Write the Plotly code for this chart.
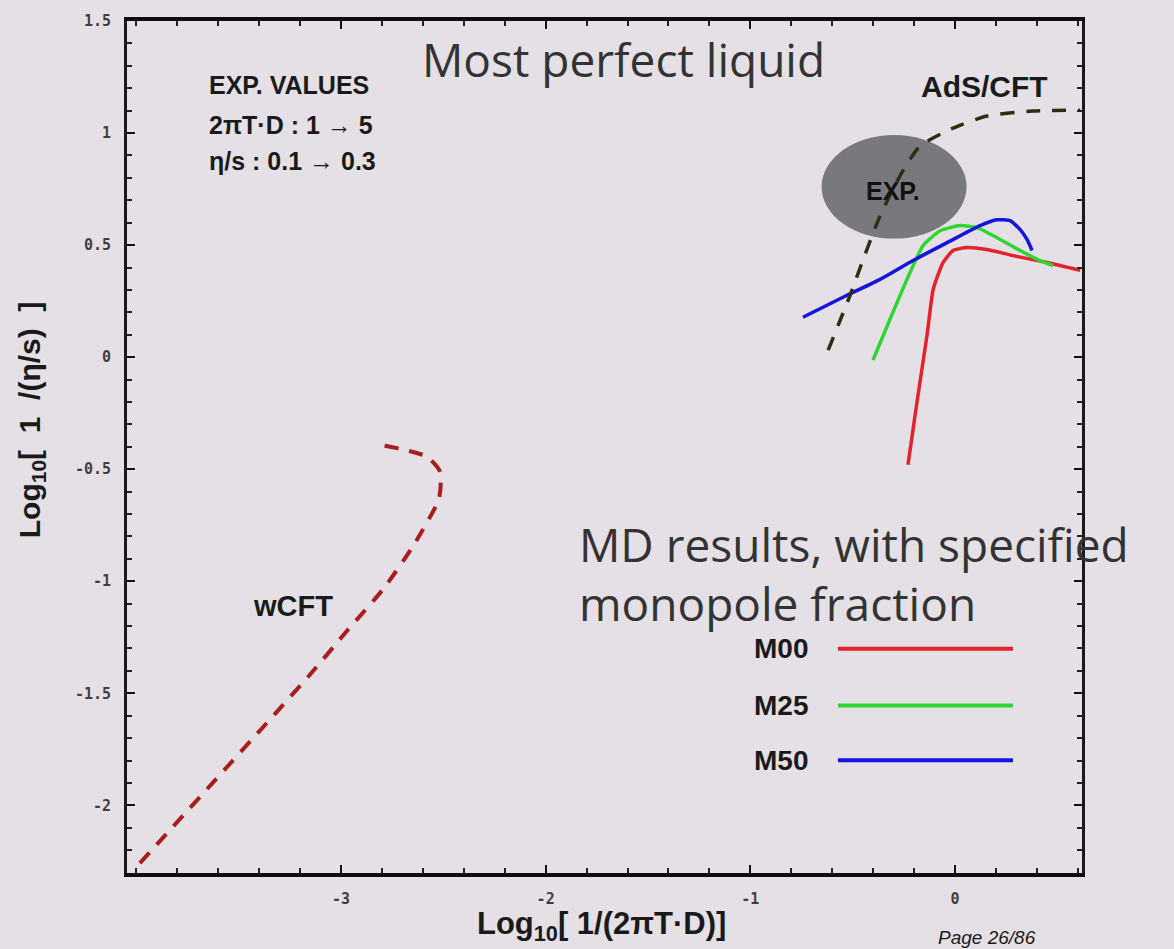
import plotly.graph_objects as go

# ---------------- data ----------------
wcft_x = [-3.982, -3.156, -2.971, -2.790, -2.643, -2.521, -2.516, -2.580, -2.692, -2.839]
wcft_y = [-2.258, -1.422, -1.222, -1.031, -0.836, -0.631, -0.511, -0.444, -0.413, -0.387]

ads_x = [-0.620, -0.513, -0.449, -0.366, -0.269, -0.171, -0.010, 0.156, 0.381, 0.611]
ads_y = [0.031, 0.276, 0.436, 0.631, 0.809, 0.942, 1.022, 1.076, 1.098, 1.102]

m00_x = [-0.230, -0.186, -0.137, -0.107, -0.059, -0.010, 0.059, 0.156, 0.283, 0.450, 0.611]
m00_y = [-0.480, -0.200, 0.098, 0.302, 0.422, 0.476, 0.489, 0.480, 0.453, 0.422, 0.387]

m25_x = [-0.401, -0.318, -0.235, -0.156, -0.073, 0.024, 0.107, 0.205, 0.318, 0.415, 0.479]
m25_y = [-0.013, 0.169, 0.347, 0.498, 0.564, 0.587, 0.578, 0.533, 0.476, 0.431, 0.409]

m50_x = [-0.743, -0.528, -0.366, -0.205, -0.039, 0.122, 0.205, 0.269, 0.318, 0.352, 0.376]
m50_y = [0.178, 0.276, 0.347, 0.431, 0.511, 0.587, 0.613, 0.609, 0.569, 0.524, 0.476]

# experimental region: log10(1/(2piTD)) and log10(1/(eta/s)) ranges
exp_x_range = [-0.652, 0.056]
exp_y_range = [0.529, 0.991]

x_tickvals = [-3, -2, -1, 0]
x_ticktext = ["-3", "-2", "-1", "0"]
y_tickvals = [1.5, 1, 0.5, 0, -0.5, -1, -1.5, -2]
y_ticktext = ["1.5", "1", "0.5", "0", "-0.5", "-1", "-1.5", "-2"]

legend_labels = ["M00", "M25", "M50"]
series_colors = ["#e3232b", "#2fd62f", "#1414de"]

# ---------------- figure ----------------
BG = "#e4e0e5"
fig = go.Figure()

fig.add_trace(go.Scatter(x=wcft_x, y=wcft_y, mode="lines",
                         line=dict(color="#a81e1e", width=4, dash="14px,11px", shape="spline", smoothing=0.6),
                         showlegend=False, hoverinfo="skip"))
fig.add_trace(go.Scatter(x=m00_x, y=m00_y, mode="lines",
                         line=dict(color=series_colors[0], width=3.5, shape="spline", smoothing=0.5),
                         showlegend=False, hoverinfo="skip"))
fig.add_trace(go.Scatter(x=m25_x, y=m25_y, mode="lines",
                         line=dict(color=series_colors[1], width=3.5, shape="spline", smoothing=0.5),
                         showlegend=False, hoverinfo="skip"))
fig.add_trace(go.Scatter(x=m50_x, y=m50_y, mode="lines",
                         line=dict(color=series_colors[2], width=3.5, shape="spline", smoothing=0.5),
                         showlegend=False, hoverinfo="skip"))
fig.add_trace(go.Scatter(x=ads_x, y=ads_y, mode="lines",
                         line=dict(color="#2e2e14", width=3.5, dash="14px,12px", shape="spline", smoothing=0.6),
                         showlegend=False, hoverinfo="skip"))

# EXP ellipse
fig.add_shape(type="circle", xref="x", yref="y",
              x0=exp_x_range[0], x1=exp_x_range[1], y0=exp_y_range[0], y1=exp_y_range[1],
              fillcolor="#79787d", line=dict(width=0), layer="below")

# legend (text left of line)
legend_y = [0.2632, 0.1965, 0.1322]
for lab, col, yy in zip(legend_labels, series_colors, legend_y):
    fig.add_shape(type="line", xref="paper", yref="paper", x0=0.7445, x1=0.9277, y0=yy, y1=yy,
                  line=dict(color=col, width=4))
    fig.add_annotation(text="<b>%s</b>" % lab, xref="paper", yref="paper", x=0.7152, y=yy,
                       xanchor="right", yanchor="middle", showarrow=False,
                       font=dict(family="Liberation Sans", size=28, color="#1a1a1a"))


def A(text, x, y, size, xanchor="left", bold=True, family="Liberation Sans", color="#1a1a1a",
      xref="x", yref="y", italic=False, textangle=0):
    t = text
    if bold:
        t = "<b>%s</b>" % t
    if italic:
        t = "<i>%s</i>" % t
    fig.add_annotation(text=t, x=x, y=y, xref=xref, yref=yref, xanchor=xanchor, yanchor="middle",
                       showarrow=False, textangle=textangle,
                       font=dict(family=family, size=size, color=color))


A("Most perfect liquid", -2.614, 1.33, 46, bold=False, family="Open Sans", color="#333333")
A("EXP. VALUES", -3.655, 1.213, 25)
A("2πT·D : 1 → 5", -3.655, 1.036, 25)
A("η/s : 0.1 → 0.3", -3.655, 0.876, 25)
A("AdS/CFT", 0.142, 1.209, 30, xanchor="center")
A("4pi", 0.674, 1.076, 36)
A("EXP.", -0.303, 0.742, 25, xanchor="center", color="#111111")
A("wCFT", -3.234, -1.111, 29, xanchor="center")
A("MD results, with specified", -1.847, -0.836, 46, bold=False, family="Open Sans", color="#333333")
A("monopole fraction", -1.847, -1.098, 46, bold=False, family="Open Sans", color="#333333")

# axis titles
A("Log<sub>10</sub>[\u00a01/(2πT·D)]", 0.497, -0.062, 31, xanchor="center", xref="paper", yref="paper")
A("Log<sub>10</sub>[\u00a0\u00a01\u00a0\u00a0/(η/s)\u00a0\u00a0]", -0.1, 0.532, 30, xanchor="center",
  xref="paper", yref="paper", textangle=-90)
A("Page 26/86", 0.901, -0.076, 19, xanchor="center", bold=False, italic=True, xref="paper", yref="paper")

tickfont = dict(family="DejaVu Sans Mono", size=15, color="#3f3f3f", weight="bold")
fig.update_xaxes(range=[-4.045, 0.62], tickvals=x_tickvals, ticktext=x_ticktext,
                 ticks="inside", ticklen=8, tickwidth=2, tickcolor="#111",
                 minor=dict(dtick=0.2, tick0=0, ticks="inside", ticklen=5, tickwidth=1.5, tickcolor="#222"),
                 showline=True, linecolor="#0d0d0d", linewidth=4, mirror="allticks",
                 showgrid=False, zeroline=False, tickfont=tickfont, ticklabelstandoff=9)
fig.update_yaxes(range=[-2.302, 1.5], tickvals=y_tickvals, ticktext=y_ticktext,
                 ticks="inside", ticklen=8, tickwidth=2, tickcolor="#111",
                 minor=dict(dtick=0.1, tick0=0, ticks="inside", ticklen=5, tickwidth=1.5, tickcolor="#222"),
                 showline=True, linecolor="#1a1a1a", linewidth=3, mirror="allticks",
                 showgrid=False, zeroline=False, tickfont=tickfont, ticklabelstandoff=10)

fig.update_layout(width=1174, height=949, margin=dict(l=127, r=92, t=18, b=76),
                  paper_bgcolor=BG, plot_bgcolor=BG, showlegend=False)

fig.write_html("out.html")
